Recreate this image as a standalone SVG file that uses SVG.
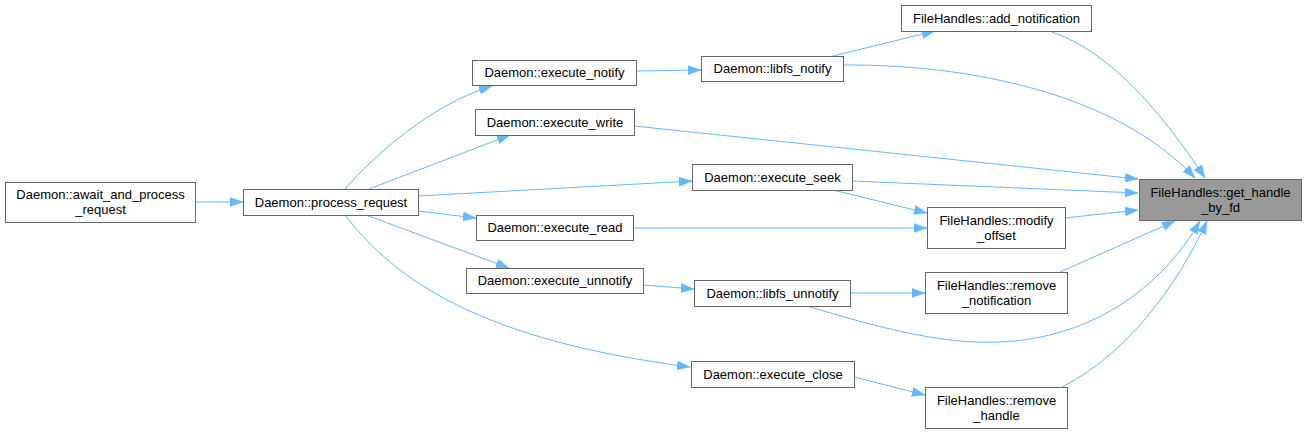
<svg xmlns="http://www.w3.org/2000/svg" width="1306" height="433" viewBox="0 0 1306 433">
<style>
.n rect{fill:#ffffff;stroke:#666666;stroke-width:1}
.n.hl rect{fill:#999999}
.n text{font-family:"Liberation Sans",Arial,Helvetica,sans-serif;font-size:13px;fill:#000000;text-anchor:middle}
.e path{fill:none;stroke:#63b8ff;stroke-width:1;marker-end:url(#ah)}
</style>
<defs>
<marker id="ah" markerUnits="userSpaceOnUse" viewBox="0 -5 13 10" refX="13" refY="0" markerWidth="13" markerHeight="10" orient="auto">
<path d="M0,-4.5 L13,0 L0,4.5 z" fill="#63b8ff" stroke="#63b8ff" stroke-width="0.5"/>
</marker>
</defs>
<rect x="0" y="0" width="1306" height="433" fill="#ffffff"/>
<g id="edges" class="e">
<path d="M195,202 L243,202"/>
<path d="M345,189 C375,155 430,105 492,86"/>
<path d="M369,189 L510,135"/>
<path d="M418,196 L692,181"/>
<path d="M418,211 L476,218"/>
<path d="M366,215 L509,268"/>
<path d="M345,215 C395,280 480,340 690,367"/>
<path d="M636,71 L701,70"/>
<path d="M833,56 L935,31"/>
<path d="M843,65 C965,64 1115,92 1195,178"/>
<path d="M1052,32 C1110,52 1160,110 1205,178"/>
<path d="M634,126 L1138,179"/>
<path d="M852,181 L1138,193"/>
<path d="M833,190 L927,213"/>
<path d="M633,228 L927,228"/>
<path d="M1065,218 L1138,210"/>
<path d="M643,285 L694,289"/>
<path d="M850,293 L925,293"/>
<path d="M1060,272 L1175,221"/>
<path d="M807,306 C870,325 940,345 1000,342 C1090,338 1160,290 1200,221"/>
<path d="M854,377 L925,395"/>
<path d="M1062,387 C1125,355 1175,290 1207,221"/>
</g>
<g id="node_await" class="n"><rect x="5.5" y="182.5" width="190" height="40"/><text x="100.5" y="199">Daemon::await_and_process</text><text x="100.5" y="214">_request</text></g>
<g id="node_process_request" class="n"><rect x="243.5" y="189.5" width="175" height="26"/><text x="331" y="207">Daemon::process_request</text></g>
<g id="node_execute_notify" class="n"><rect x="472.5" y="60.5" width="164" height="25"/><text x="554.5" y="77">Daemon::execute_notify</text></g>
<g id="node_libfs_notify" class="n"><rect x="701.5" y="56.5" width="142" height="25"/><text x="772.5" y="73">Daemon::libfs_notify</text></g>
<g id="node_execute_write" class="n"><rect x="475.5" y="109.5" width="159" height="26"/><text x="555" y="127">Daemon::execute_write</text></g>
<g id="node_execute_seek" class="n"><rect x="692.5" y="164.5" width="160" height="26"/><text x="772.5" y="182">Daemon::execute_seek</text></g>
<g id="node_execute_read" class="n"><rect x="476.5" y="215.5" width="157" height="25"/><text x="555" y="232">Daemon::execute_read</text></g>
<g id="node_execute_unnotify" class="n"><rect x="466.5" y="268.5" width="177" height="25"/><text x="555" y="285">Daemon::execute_unnotify</text></g>
<g id="node_libfs_unnotify" class="n"><rect x="694.5" y="280.5" width="156" height="26"/><text x="772.5" y="298">Daemon::libfs_unnotify</text></g>
<g id="node_execute_close" class="n"><rect x="691.5" y="361.5" width="163" height="26"/><text x="773" y="379">Daemon::execute_close</text></g>
<g id="node_add_notification" class="n"><rect x="901.5" y="5.5" width="190" height="26"/><text x="996.5" y="23">FileHandles::add_notification</text></g>
<g id="node_get_handle_by_fd" class="n hl"><rect x="1139.5" y="179.5" width="162" height="41"/><text x="1220.5" y="197">FileHandles::get_handle</text><text x="1220.5" y="212">_by_fd</text></g>
<g id="node_modify_offset" class="n"><rect x="927.5" y="207.5" width="138" height="41"/><text x="996.5" y="225">FileHandles::modify</text><text x="996.5" y="240">_offset</text></g>
<g id="node_remove_notification" class="n"><rect x="925.5" y="272.5" width="142" height="41"/><text x="996.5" y="290">FileHandles::remove</text><text x="996.5" y="305">_notification</text></g>
<g id="node_remove_handle" class="n"><rect x="925.5" y="387.5" width="142" height="41"/><text x="996.5" y="405">FileHandles::remove</text><text x="996.5" y="420">_handle</text></g>
</svg>
